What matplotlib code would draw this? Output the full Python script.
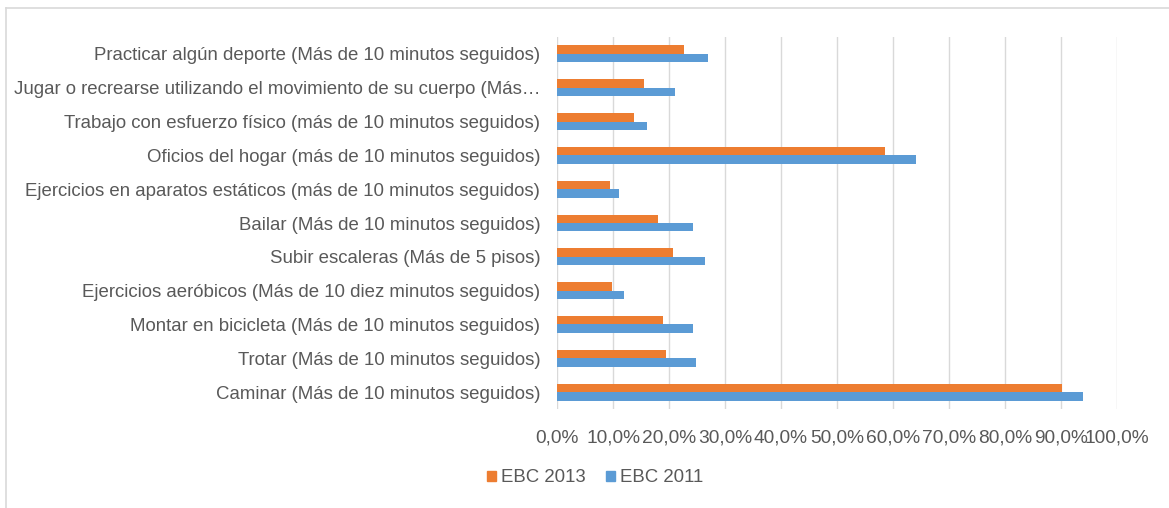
import matplotlib
matplotlib.use("Agg")
import matplotlib.pyplot as plt
import numpy as np
from matplotlib.lines import Line2D
from matplotlib.patches import Patch
from matplotlib.ticker import FuncFormatter

plt.rcParams["font.family"] = ["Liberation Sans", "DejaVu Sans"]

# categories listed bottom -> top
categorias = [
    "Caminar (Más de 10 minutos seguidos)",
    "Trotar (Más de 10 minutos seguidos)",
    "Montar en bicicleta (Más de 10 minutos seguidos)",
    "Ejercicios aeróbicos (Más de 10 diez minutos seguidos)",
    "Subir escaleras (Más de 5 pisos)",
    "Bailar (Más de 10 minutos seguidos)",
    "Ejercicios en aparatos estáticos (más de 10 minutos seguidos)",
    "Oficios del hogar (más de 10 minutos seguidos)",
    "Trabajo con esfuerzo físico (más de 10 minutos seguidos)",
    "Jugar o recrearse utilizando el movimiento de su cuerpo (Más…",
    "Practicar algún deporte (Más de 10 minutos seguidos)",
]
ebc_2013 = [90.2, 19.5, 18.9, 9.8, 20.7, 18.1, 9.5, 58.5, 13.8, 15.6, 22.7]
ebc_2011 = [93.9, 24.9, 24.2, 12.0, 26.4, 24.2, 11.0, 64.1, 16.0, 21.1, 26.9]
x_ticks = [0, 10, 20, 30, 40, 50, 60, 70, 80, 90, 100]

c_2013 = "#ED7D31"
c_2011 = "#5B9BD5"
txt = "#595959"
grid_c = "#D9D9D9"

W, H = 1169, 508
fig = plt.figure(figsize=(W / 100, H / 100), dpi=100)
ax = fig.add_axes([557 / W, 1 - 409 / H, 560 / W, 372 / H])

y = np.arange(len(categorias))
h = 0.25
ax.barh(y + h / 2, ebc_2013, height=h, color=c_2013, label="EBC 2013", zorder=3)
ax.barh(y - h / 2, ebc_2011, height=h, color=c_2011, label="EBC 2011", zorder=3)

ax.set_xlim(0, 100)
ax.set_ylim(-0.5, len(categorias) - 0.5)
ax.set_xticks(x_ticks)
ax.xaxis.set_major_formatter(FuncFormatter(lambda v, p: f"{v:.1f}%".replace(".", ",")))
ax.set_yticks(y)
ax.set_yticklabels(categorias)
ax.grid(axis="x", color=grid_c, linewidth=1.0, zorder=0)
ax.tick_params(axis="y", length=0, pad=12, labelsize=13.4, labelcolor=txt)
ax.tick_params(axis="x", length=0, pad=15, labelsize=13.8, labelcolor=txt)
for s in ax.spines.values():
    s.set_visible(False)

# legend
handles = [Patch(color=c_2013, label="EBC 2013"), Patch(color=c_2011, label="EBC 2011")]
fig.legend(handles=handles, loc="center", bbox_to_anchor=(595 / W, 1 - 478 / H), ncol=2,
           frameon=False, handlelength=0.5, handleheight=0.5, handletextpad=0.27,
           columnspacing=1.05, fontsize=13.4, labelcolor=txt)

# chart frame (only top and left edges visible)
fig.add_artist(Line2D([6 / W, 1.0], [1 - 8 / H, 1 - 8 / H], color=grid_c, linewidth=1.2))
fig.add_artist(Line2D([6 / W, 6 / W], [0.0, 1 - 8 / H], color=grid_c, linewidth=1.2))

fig.savefig("out.png", dpi=100)
